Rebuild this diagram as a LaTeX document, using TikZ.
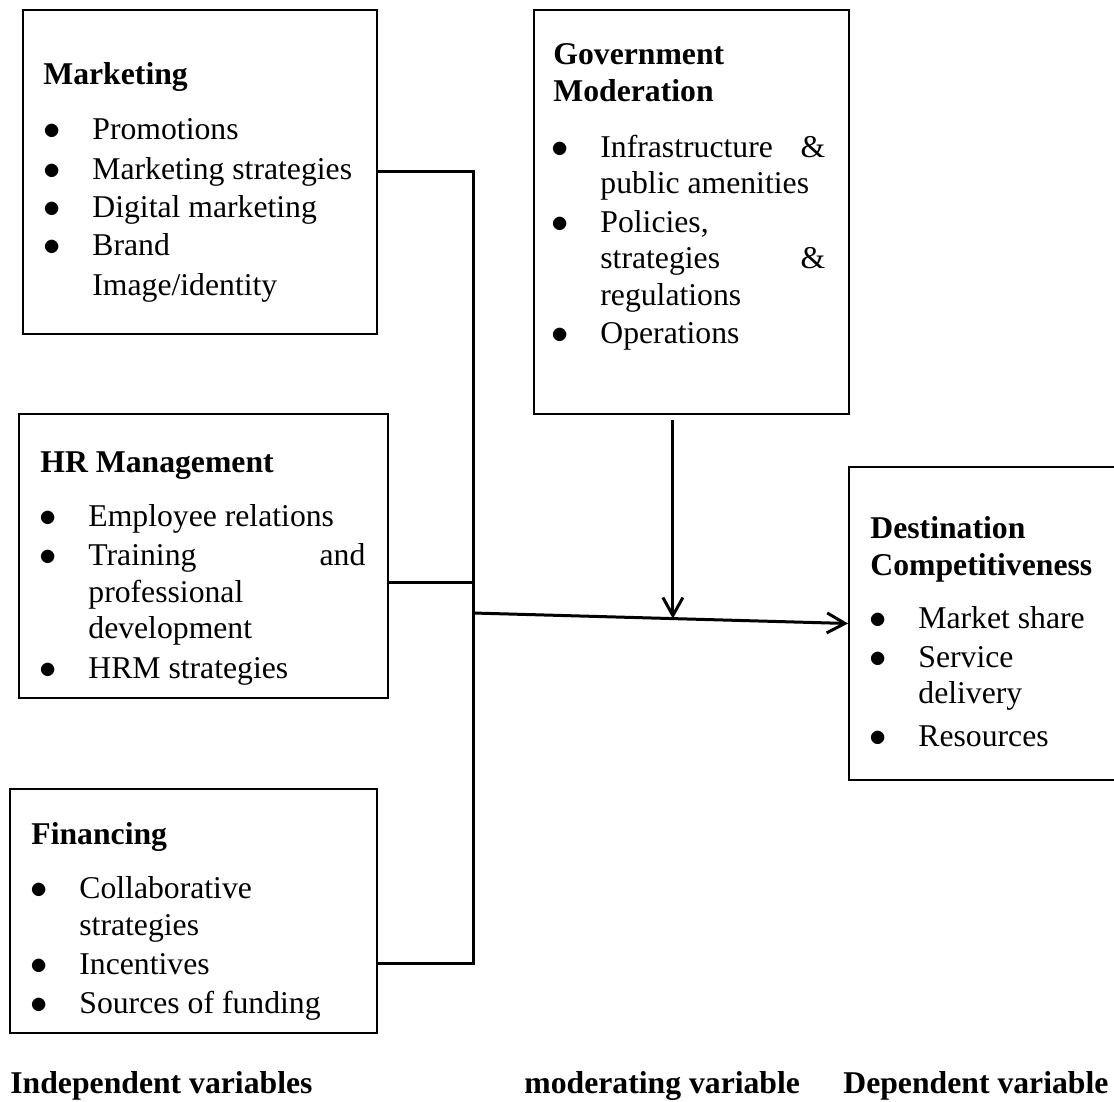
\documentclass[tikz,border=0pt]{standalone}
\usepackage{fontspec}
\setmainfont{Liberation Serif}
\usetikzlibrary{arrows.meta,calc}

\newcommand{\fsz}{\fontsize{15.85}{19}\selectfont}
\newcommand{\itm}{\llap{\makebox[12pt][c]{$\bullet$}\hspace{14pt}}}

\tikzset{
  varbox/.style={draw, line width=1pt, anchor=north west, inner sep=0pt},
  ln/.style={anchor=base west, inner sep=0pt, font=\fsz},
  hd/.style={anchor=base west, inner sep=0pt, font=\fsz\bfseries},
  link/.style={line width=1.5pt},
  flow/.style={link, -{Straight Barb[length=9pt,width=10pt]}}
}

\begin{document}
\begin{tikzpicture}[x=0.5pt,y=-0.5pt]
    \useasboundingbox (0,0) rectangle (1114,1102);
    \clip (0,0) rectangle (1114,1102);
    % boxes
    \node[varbox, minimum width=177pt, minimum height=162pt] (mkt) at (22,9) {};
    \node[varbox, minimum width=184.5pt, minimum height=142pt] (hrm) at (18,413) {};
    \node[varbox, minimum width=183.5pt, minimum height=122pt] (fin) at (9,788) {};
    \node[varbox, minimum width=157.5pt, minimum height=202pt] (gov) at (533,9) {};
    \node[varbox, minimum width=140pt, minimum height=156.5pt] (dst) at (848,466) {};
    % marketing
    \node[hd] (mkth) at (43,85) {Marketing};
    \node[ln] (mkt1) at (92,140) {\itm Promotions};
    \node[ln] (mkt2) at (92,179) {\itm Marketing strategies};
    \node[ln] (mkt3) at (92,217) {\itm Digital marketing};
    \node[ln] (mkt4) at (92,256) {\itm Brand};
    \node[ln] (mkt5) at (92,295) {Image/identity};
    % hr management
    \node[hd] (hrmh) at (40,472) {HR Management};
    \node[ln] (hrm1) at (88,526) {\itm Employee relations};
    \node[ln] (hrm2) at (88,565) {\itm\makebox[138.5pt][l]{Training\hfill and}};
    \node[ln] (hrm3) at (88,602) {professional};
    \node[ln] (hrm4) at (88,638) {development};
    \node[ln] (hrm5) at (88,678) {\itm HRM strategies};
    % financing
    \node[hd] (finh) at (31,844) {Financing};
    \node[ln] (fin1) at (79,898) {\itm Collaborative};
    \node[ln] (fin2) at (79,935) {strategies};
    \node[ln] (fin3) at (79,974) {\itm Incentives};
    \node[ln] (fin4) at (79,1013) {\itm Sources of funding};
    % government
    \node[hd] (govh1) at (553,65) {Government};
    \node[hd] (govh2) at (553,102) {Moderation};
    \node[ln] (gov1) at (600,157) {\itm\makebox[112.5pt][l]{Infrastructure\hfill\&}};
    \node[ln] (gov2) at (600,193) {public amenities};
    \node[ln] (gov3) at (600,232) {\itm Policies,};
    \node[ln] (gov4) at (600,268) {\makebox[112.5pt][l]{strategies\hfill\&}};
    \node[ln] (gov5) at (600,305) {regulations};
    \node[ln] (gov6) at (600,343) {\itm Operations};
    % destination
    \node[hd] (dsth1) at (870,538) {Destination};
    \node[hd] (dsth2) at (870,575) {Competitiveness};
    \node[ln] (dst1) at (918,628) {\itm Market share};
    \node[ln] (dst2) at (918,667) {\itm Service};
    \node[ln] (dst3) at (918,703) {delivery};
    \node[ln] (dst4) at (918,746) {\itm Resources};
    % captions
    \node[hd] (capi) at (10,1093) {Independent variables};
    \node[hd] (capm) at (524,1093) {moderating variable};
    \node[hd] (capd) at (843,1093) {Dependent variable};
    % connectors
    \coordinate (busT) at (473,172);
    \coordinate (busB) at (473,963);
    \coordinate (hrJ) at (473,582);
    \coordinate (mainS) at (473,613);
    \draw[link] (mkt.east) -- (busT) -- (busB) -- (fin.east |- busB);
    \draw[link] (hrm.east |- hrJ) -- (hrJ);
    \draw[flow] (mainS) -- (dst.west);
    \coordinate (govA) at ($(mainS)!0.533!(dst.west)$);
    \coordinate (govS) at ($(gov.south -| govA)+(0,5)$);
    \draw[flow] (govS) -- (govA);
\end{tikzpicture}
\end{document}
